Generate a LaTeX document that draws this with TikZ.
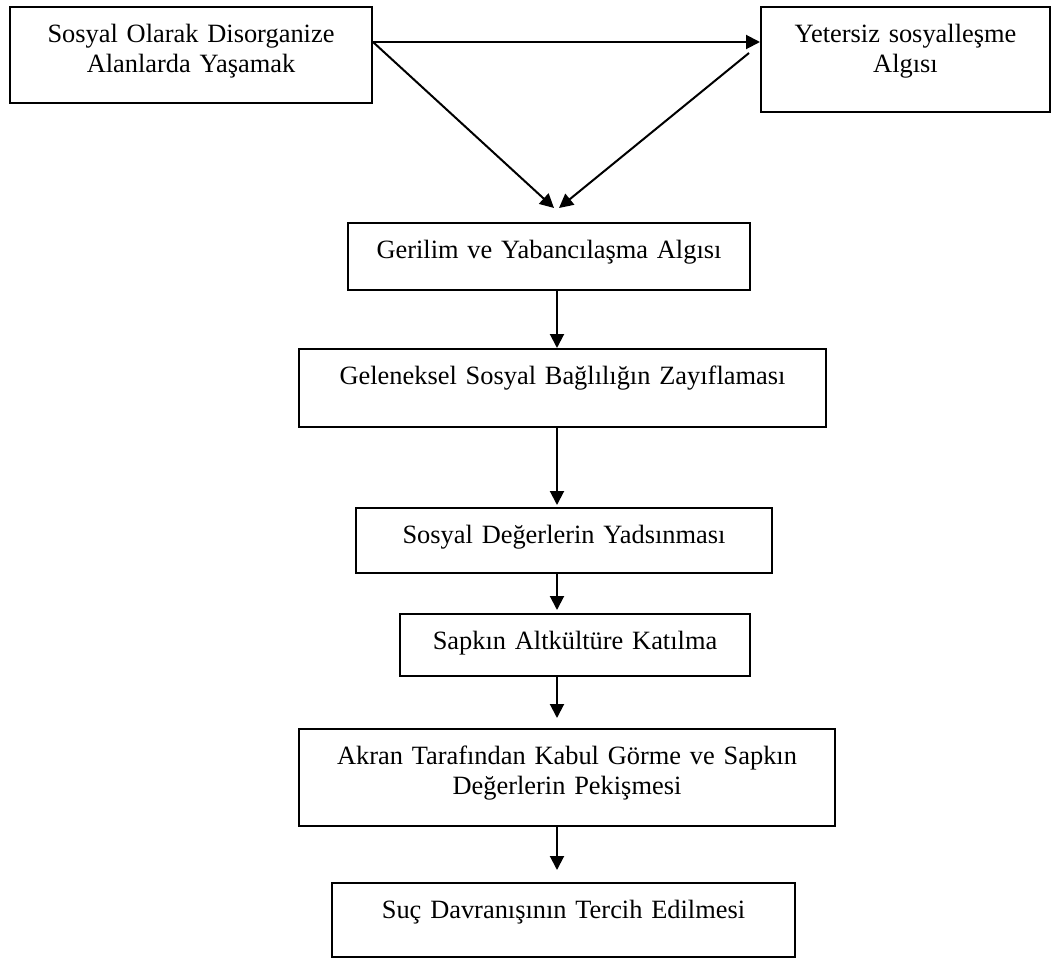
\documentclass[tikz,border=0pt]{standalone}
\usepackage{fontspec}
\setmainfont{Liberation Serif}
\usetikzlibrary{arrows.meta}
\begin{document}
\begin{tikzpicture}[
          bx/.style={draw, line width=1pt, anchor=north west, inner sep=0pt,
            align=center, text height=17.5pt,
            font=\fontsize{13.2}{15}\selectfont},
          ar/.style={line width=1pt, -{Triangle[length=7pt, width=7pt]}},
          x=0.5pt,
          y=-0.5pt,
        ]
      \useasboundingbox (0, 0) rectangle (1051, 959);
      \node[bx, text width=181pt, text depth=30.5pt] (disorg) at (9, 6) {Sosyal Olarak Disorganize\\Alanlarda Yaşamak};
      \node[bx, text width=144.5pt, text depth=35pt] (yetersiz) at (760, 6) {Yetersiz sosyalleşme\\Algısı};
      \node[bx, text width=201pt, text depth=16pt] (gerilim) at (347, 222) {Gerilim ve Yabancılaşma Algısı};
      \node[bx, text width=263.5pt, text depth=21.5pt] (geleneksel) at (298, 348) {Geleneksel Sosyal Bağlılığın Zayıflaması};
      \node[bx, text width=208pt, text depth=15pt] (sosyal) at (355, 507) {Sosyal Değerlerin Yadsınması};
      \node[bx, text width=175pt, text depth=13.5pt] (sapkin) at (399, 613) {Sapkın Altkültüre Katılma};
      \node[bx, text width=268pt, text depth=31pt] (akran) at (298, 728) {Akran Tarafından Kabul Görme ve Sapkın\\Değerlerin Pekişmesi};
      \node[bx, text width=231.5pt, text depth=19.5pt] (suc) at (331, 882) {Suç Davranışının Tercih Edilmesi};
      \coordinate (spine) at (557, 0);
      \coordinate (split) at (371, 42);
      \coordinate (fromright) at (749, 53);
      \coordinate (meetl) at (554, 208);
      \coordinate (meetr) at (559, 208);
      \draw[ar] (disorg.east |- split) -- (yetersiz.west |- split);
      \draw[ar] (disorg.east |- split) -- (meetl);
      \draw[ar] (fromright) -- (meetr);
      \draw[ar] (gerilim.south -| spine) -- (geleneksel.north -| spine);
      \draw[ar, shorten >=1pt] (geleneksel.south -| spine) -- (sosyal.north -| spine);
      \draw[ar, shorten >=1.5pt] (sosyal.south -| spine) -- (sapkin.north -| spine);
      \draw[ar, shorten >=5pt] (sapkin.south -| spine) -- (akran.north -| spine);
      \draw[ar, shorten >=6pt] (akran.south -| spine) -- (suc.north -| spine);
    \end{tikzpicture}
\end{document}
